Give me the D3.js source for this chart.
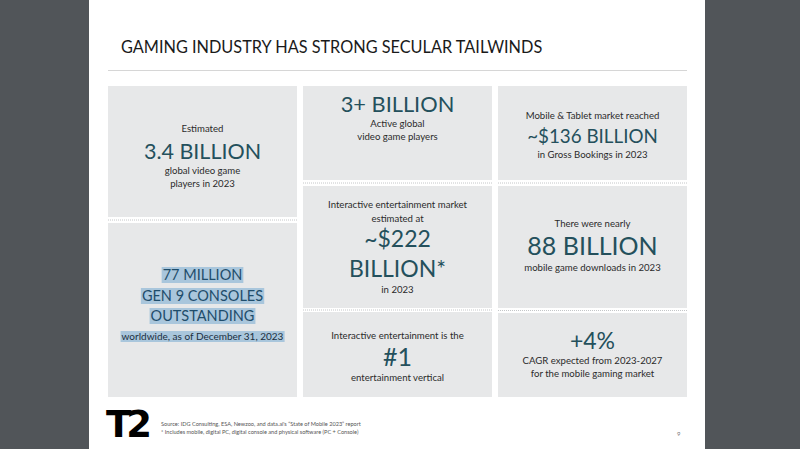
<!DOCTYPE html>
<html><head><meta charset="utf-8">
<script src="https://cdn.jsdelivr.net/npm/d3@7"></script>
<style>html,body{margin:0;padding:0;background:#515559;}svg{display:block}</style>
</head><body>
<svg id="c" width="800" height="449"></svg>
<script>
// ---- data ----
const title = "GAMING INDUSTRY HAS STRONG SECULAR TAILWINDS";
const tileIds = ["players", "consoles", "active", "market", "rank", "mobile", "downloads", "cagr"];
const leadText = [["Estimated"], [], [], ["Interactive entertainment market", "estimated at"], ["Interactive entertainment is the"], ["Mobile & Tablet market reached"], ["There were nearly"], []];
const figureText = [["3.4 BILLION"], ["77 MILLION", "GEN 9 CONSOLES", "OUTSTANDING"], ["3+ BILLION"], ["~$222", "BILLION*"], ["#1"], ["~$136 BILLION"], ["88 BILLION"], ["+4%"]];
const tailText = [["global video game", "players in 2023"], ["worldwide, as of December 31, 2023"], ["Active global", "video game players"], ["in 2023"], ["entertainment vertical"], ["in Gross Bookings in 2023"], ["mobile game downloads in 2023"], ["CAGR expected from 2023-2027", "for the mobile gaming market"]];
const sourceNotes = ["Source:  IDG Consulting, ESA, Newzoo, and data.ai's \u201cState of Mobile 2023\u201d report", "*  Includes mobile, digital PC, digital console and physical software (PC + Console)"];
const pageNumber = "9";

// ---- layout (drawing only) ----
const svg = d3.select("#c");
const W = 800, H = 449;
const slideX = d3.scaleLinear().domain([0, 1]).range([89, 705]);
svg.append("rect").attr("x", slideX(0)).attr("y", 0).attr("width", slideX(1) - slideX(0)).attr("height", H).attr("fill", "#ffffff");

const colX = [[108, 297], [303, 492], [498, 687]];
// tile boxes: [col, y0, y1]
const boxes = [[0, 86, 217], [0, 223, 397], [1, 86, 180], [1, 186, 308], [1, 312, 397], [2, 86, 180], [2, 186, 308], [2, 313, 397]];
// baselines of lines within each tile
const lineY = [
  {lead: [132], fig: [159], tail: [174, 187]},
  {lead: [], fig: [280, 301, 321], tail: [340]},
  {lead: [], fig: [112], tail: [127, 140]},
  {lead: [208, 222], fig: [247, 277], tail: [293]},
  {lead: [339], fig: [366], tail: [381]},
  {lead: [119], fig: [143], tail: [158]},
  {lead: [227], fig: [255], tail: [271]},
  {lead: [], fig: [349], tail: [364, 377]}
];
const figSize = [21.5, 14.5, 21.8, 23, 25, 18.8, 25, 23];
const smallSize = [9.6, 10, 9.6, 9.6, 9.6, 9.6, 9.6, 9.6];

const FONT = "Lato, 'Open Sans', sans-serif";

svg.append("text").attr("x", 121).attr("y", 53).attr("font-family", FONT).attr("font-size", 16.3)
  .attr("fill", "#1a1a1a").text(title);
svg.append("line").attr("x1", 108).attr("x2", 687).attr("y1", 70.5).attr("y2", 70.5).attr("stroke", "#d6d6d6").attr("stroke-width", 1.2);

const g = svg.append("g");
boxes.forEach((b, i) => {
  const [c, y0, y1] = b;
  const x0 = colX[c][0], x1 = colX[c][1];
  const cx = (x0 + x1) / 2;
  g.append("rect").attr("x", x0).attr("y", y0).attr("width", x1 - x0).attr("height", y1 - y0).attr("fill", "#e7e8e9");
  const next = boxes[i + 1];
  if (next && next[0] === c) {
    const sy = (y1 + next[1]) / 2;
    g.append("line").attr("x1", x0).attr("x2", x1).attr("y1", sy).attr("y2", sy)
      .attr("stroke", "#c4c6c8").attr("stroke-width", 1).attr("stroke-dasharray", "1,1");
  }
  const L = lineY[i];
  const highlight = tileIds[i] === "consoles";
  const addLine = (txt, y, size, color) => {
    const t = g.append("text").attr("x", cx).attr("y", y).attr("text-anchor", "middle")
      .attr("font-family", FONT).attr("font-size", size).attr("fill", color).text(txt);
    if (highlight) {
      const bb = t.node().getBBox();
      g.insert("rect", () => t.node()).attr("x", bb.x - 1).attr("y", bb.y + 1).attr("width", bb.width + 2)
        .attr("height", bb.height - 1).attr("fill", "#a9c6dc");
    }
  };
  leadText[i].forEach((t, k) => addLine(t, L.lead[k], smallSize[i], "#2b2b2b"));
  figureText[i].forEach((t, k) => addLine(t, L.fig[k], figSize[i], highlight ? "#1f4d6b" : "#24505c"));
  tailText[i].forEach((t, k) => addLine(t, L.tail[k], smallSize[i], highlight ? "#1b2f40" : "#2b2b2b"));
});

// footer
svg.append("text").attr("x", 106).attr("y", 437).attr("font-family", "'DejaVu Sans', sans-serif").attr("font-weight", "bold")
  .attr("font-size", 37).attr("letter-spacing", -5).attr("fill", "#000").text("T2");
sourceNotes.forEach((s, k) => {
  svg.append("text").attr("x", 161).attr("y", 426 + k * 8).attr("font-family", FONT).attr("font-size", 5.6)
    .attr("fill", "#555").text(s);
});
svg.append("text").attr("x", 677).attr("y", 436).attr("font-family", FONT).attr("font-size", 6).attr("fill", "#777").text(pageNumber);
</script>
</body></html>
